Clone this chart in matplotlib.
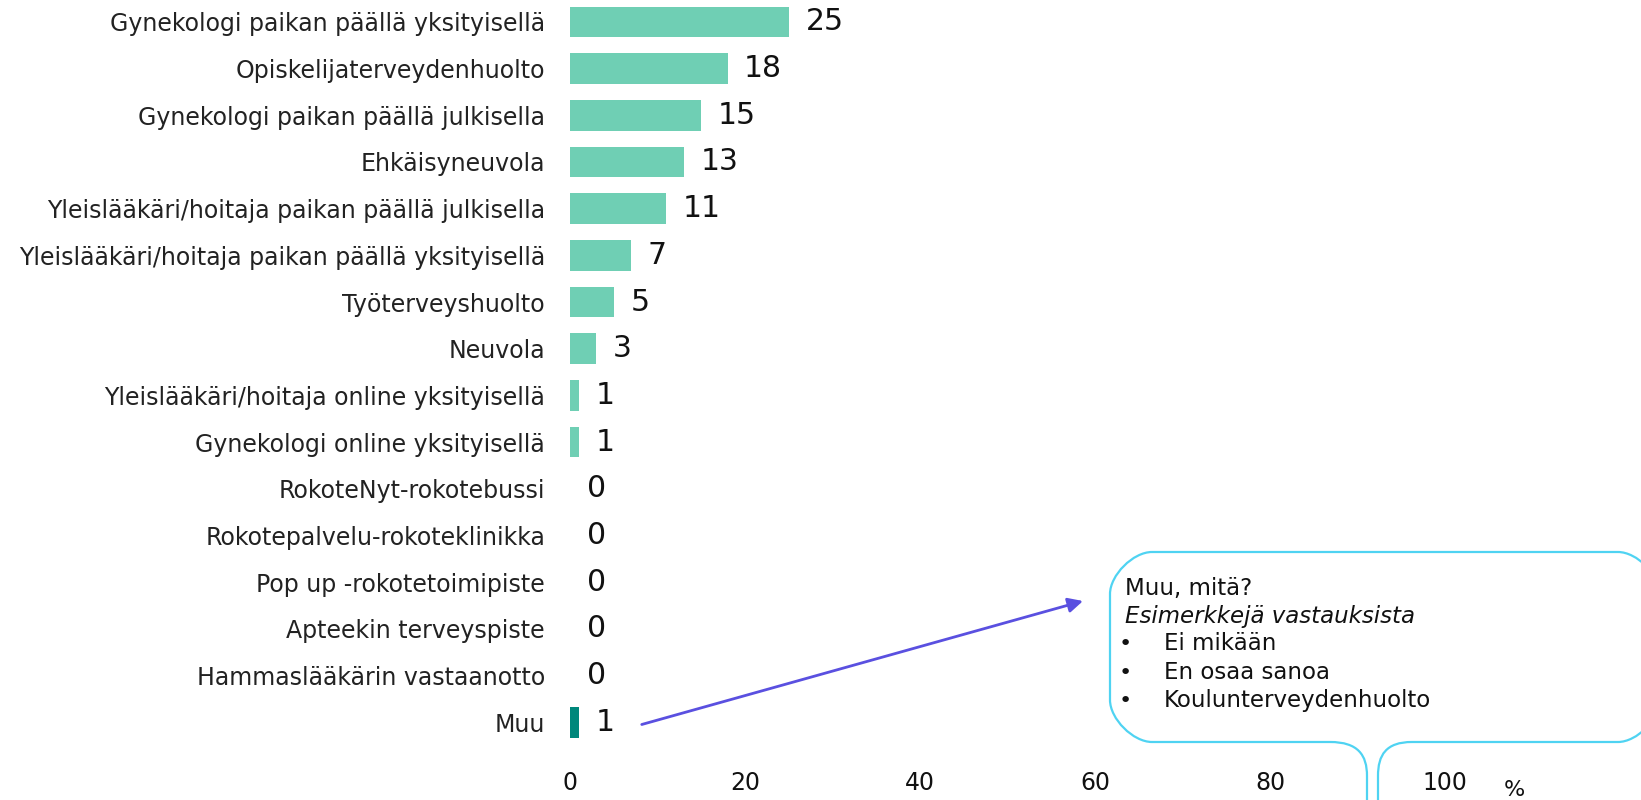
import matplotlib.pyplot as plt
from matplotlib.path import Path
from matplotlib.patches import PathPatch

plt.rcParams['font.family'] = ['DejaVu Sans']

categories = [
    'Gynekologi paikan päällä yksityisellä',
    'Opiskelijaterveydenhuolto',
    'Gynekologi paikan päällä julkisella',
    'Ehkäisyneuvola',
    'Yleislääkäri/hoitaja paikan päällä julkisella',
    'Yleislääkäri/hoitaja paikan päällä yksityisellä',
    'Työterveyshuolto',
    'Neuvola',
    'Yleislääkäri/hoitaja online yksityisellä',
    'Gynekologi online yksityisellä',
    'RokoteNyt-rokotebussi',
    'Rokotepalvelu-rokoteklinikka',
    'Pop up -rokotetoimipiste',
    'Apteekin terveyspiste',
    'Hammaslääkärin vastaanotto',
    'Muu',
]
values = [25, 18, 15, 13, 11, 7, 5, 3, 1, 1, 0, 0, 0, 0, 0, 1]
xticks = [0, 20, 40, 60, 80, 100]

callout_lines = ['Muu, mitä?', 'Esimerkkejä vastauksista']
callout_bullets = ['Ei mikään', 'En osaa sanoa', 'Kouluntervey denhuolto'.replace(' ', '')]

LIGHT = '#6fcfb4'
DARK = '#00877b'
W, H = 1641, 800

fig = plt.figure(figsize=(W / 100, H / 100), dpi=100)
ax = fig.add_axes([570 / W, 1 - 745.5 / H, 875 / W, 745.5 / H])

colors = [DARK if c == 'Muu' else LIGHT for c in categories]
y = list(range(len(categories)))
ax.barh(y, values, height=0.66, color=colors)
for yi, v in zip(y, values):
    ax.annotate(str(v), (v, yi), xytext=(12, 0), textcoords='offset points',
                ha='left', va='center', fontsize=21.5, color='#111111')

ax.set_xlim(0, 100)
ax.set_ylim(15.5, -0.47)
ax.set_yticks(y, categories, fontsize=17, color='#222222')
ax.set_xticks(xticks, [str(t) for t in xticks], fontsize=17, color='#111111')
ax.tick_params(length=0)
ax.tick_params(axis='x', pad=18)
ax.tick_params(axis='y', pad=18)
for s in ax.spines.values():
    s.set_visible(False)

fig.text(1514 / W, 1 - 790 / H, '%', fontsize=16, ha='center', va='center', color='#111111')

# callout bubble (pixel coords from top-left), rounded corners
M, L, C = Path.MOVETO, Path.LINETO, Path.CURVE4
R = 42
k = 0.45 * R
x0, x1, y0, y1 = 1110, 1660, 552, 742
segs = [
    (M, [(x0 + R, y0)]),
    (L, [(x1 - R, y0)]),
    (C, [(x1 - R + k, y0), (x1, y0 + R - k), (x1, y0 + R)]),
    (L, [(x1, y1 - R)]),
    (C, [(x1, y1 - R + k), (x1 - R + k, y1), (x1 - R, y1)]),
    (L, [(1412, y1)]),
    (C, [(1386, y1), (1378, 755), (1378, 776)]),
    (L, [(1378, 802)]),
    (L, [(1367, 802)]),
    (L, [(1367, 776)]),
    (C, [(1367, 755), (1358, y1), (1330, y1)]),
    (L, [(x0 + R, y1)]),
    (C, [(x0 + R - k, y1), (x0, y1 - R + k), (x0, y1 - R)]),
    (L, [(x0, y0 + R)]),
    (C, [(x0, y0 + R - k), (x0 + R - k, y0), (x0 + R, y0)]),
]
verts, codes = [], []
for code, pts in segs:
    for px, py in pts:
        verts.append((px / W, 1 - py / H))
        codes.append(code)
fig.patches.append(PathPatch(Path(verts, codes), transform=fig.transFigure,
                             facecolor='white', edgecolor='#4fd3f2', lw=1.6))

fig.text(1125 / W, 1 - 588 / H, callout_lines[0], fontsize=16.5, va='center', color='#111111')
fig.text(1125 / W, 1 - 616 / H, callout_lines[1], fontsize=16.5, va='center', style='italic', color='#111111')
for i, b in enumerate(callout_bullets):
    yy = 1 - (644 + 28.5 * i) / H
    fig.text(1119 / W, yy, '•', fontsize=16, va='center', color='#111111')
    fig.text(1164 / W, yy, b, fontsize=16.5, va='center', color='#111111')

ax.annotate('', xy=(1083 / W, 1 - 601 / H), xycoords='figure fraction',
            xytext=(8.2, 15.05), textcoords='data',
            arrowprops=dict(arrowstyle='-|>', color='#5a50e0', lw=2,
                            mutation_scale=22, shrinkA=0, shrinkB=0))

fig.savefig('out.png', dpi=100)
